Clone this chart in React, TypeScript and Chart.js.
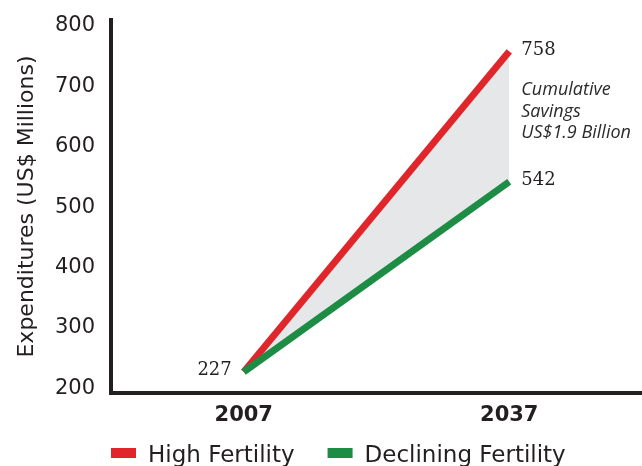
import React, { useEffect, useRef } from "react";
import { Chart, registerables } from "chart.js";

Chart.register(...registerables);

const years = ["2007", "2037"];
const highFertility = [227, 758];
const decliningFertility = [227, 542];
const yTicks = [200, 300, 400, 500, 600, 700, 800];
const seriesNames = ["High Fertility", "Declining Fertility"];
const annotationLines = ["Cumulative", "Savings", "US$1.9 Billion"];
const yTitle = "Expenditures (US$ Millions)";

const RED = "#e0262a";
const GREEN = "#1d8c45";
const FILL = "#e6e7e9";
const INK = "#231f20";

const overlayPlugin = {
  id: "overlay",
  afterDatasetsDraw(chart: any) {
    const ctx = chart.ctx;
    const red = chart.getDatasetMeta(0).data;
    const green = chart.getDatasetMeta(1).data;
    ctx.save();
    ctx.fillStyle = INK;
    ctx.font = '18px "DejaVu Serif"';
    ctx.textBaseline = "middle";
    ctx.textAlign = "right";
    ctx.fillText(String(highFertility[0]), red[0].x - 12, red[0].y - 2);
    ctx.textAlign = "left";
    ctx.fillText(String(highFertility[1]), red[1].x + 12, red[1].y - 1);
    ctx.fillText(String(decliningFertility[1]), green[1].x + 12, green[1].y - 1.5);
    ctx.fillStyle = "#2b2b2b";
    ctx.font = 'italic 18px "Open Sans"';
    ctx.textBaseline = "alphabetic";
    annotationLines.forEach((t, i) => {
      ctx.fillText(t, red[1].x + 12, red[1].y + 44 + i * 21.5);
    });
    ctx.restore();
  },
  afterDraw(chart: any) {
    const ctx = chart.ctx;
    const area = chart.chartArea;
    const datasets = chart.data.datasets;
    ctx.save();
    ctx.font = '23px "DejaVu Sans"';
    ctx.textBaseline = "alphabetic";
    ctx.textAlign = "left";
    let x = area.left;
    const baseY = 462;
    datasets.forEach((ds: any) => {
      ctx.fillStyle = ds.borderColor;
      ctx.fillRect(x, 448, 25, 10);
      ctx.fillStyle = INK;
      ctx.fillText(ds.label, x + 37, baseY);
      x += 37 + ctx.measureText(ds.label).width + 33;
    });
    ctx.restore();
  },
};

export default function App() {
  const ref = useRef<HTMLCanvasElement | null>(null);
  useEffect(() => {
    if (!ref.current) return;
    const chart = new Chart(ref.current, {
      type: "line",
      data: {
        labels: years,
        datasets: [
          {
            label: seriesNames[0],
            data: highFertility,
            borderColor: RED,
            backgroundColor: FILL,
            borderWidth: 7,
            pointRadius: 0,
            tension: 0,
            fill: "+1",
            order: 1,
          },
          {
            label: seriesNames[1],
            data: decliningFertility,
            borderColor: GREEN,
            backgroundColor: GREEN,
            borderWidth: 7,
            pointRadius: 0,
            tension: 0,
            fill: false,
            order: 0,
          },
        ],
      },
      options: {
        responsive: false,
        animation: false,
        layout: { padding: { top: 20, right: 0, bottom: 37, left: 0 } },
        plugins: {
          legend: { display: false },
          tooltip: { enabled: false },
          filler: { drawTime: "beforeDatasetsDraw" },
        },
        scales: {
          x: {
            type: "category",
            offset: true,
            grid: { display: false, drawTicks: false },
            border: { display: true, color: INK, width: 4 },
            ticks: {
              color: INK,
              padding: 10,
              font: { family: "DejaVu Sans", size: 21, weight: "bold" },
            },
            afterFit: (scale: any) => {
              scale.height = 36;
              scale.paddingLeft = 0;
              scale.paddingRight = 0;
            },
          },
          y: {
            type: "linear",
            min: 192,
            max: 810,
            grid: { display: false, drawTicks: false },
            border: { display: true, color: INK, width: 4 },
            ticks: {
              color: INK,
              padding: 16,
              font: { family: "DejaVu Sans", size: 21 },
            },
            afterBuildTicks: (scale: any) => {
              scale.ticks = yTicks.map((v) => ({ value: v }));
            },
            afterFit: (scale: any) => {
              scale.width = 111;
              scale.paddingTop = 0;
              scale.paddingBottom = 0;
            },
            title: {
              display: true,
              text: yTitle,
              color: INK,
              padding: { top: 14, bottom: 0 },
              font: { family: "DejaVu Sans", size: 22 },
            },
          },
        },
      },
      plugins: [overlayPlugin],
    } as any);
    return () => chart.destroy();
  }, []);
  return (
    <div style={{ position: "absolute", left: 0, top: 0, width: 642, height: 466, background: "#ffffff" }}>
      <canvas ref={ref} width={642} height={466} style={{ display: "block" }} />
    </div>
  );
}
